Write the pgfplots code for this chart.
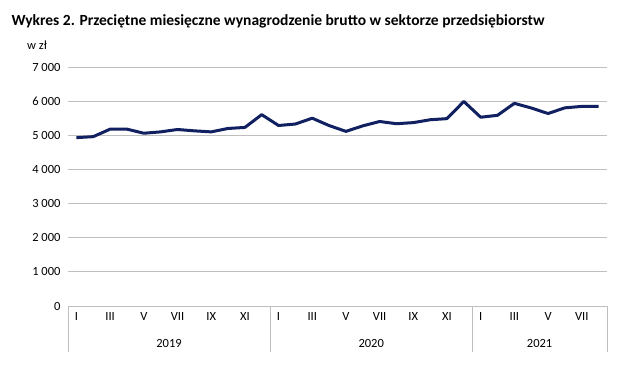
\documentclass[border=0pt]{standalone}
\usepackage{pgfplots}
\pgfplotsset{compat=1.18}
\usepackage{fontspec}
\setmainfont{Carlito}
\definecolor{navy}{RGB}{16,32,96}
\definecolor{gridgray}{RGB}{191,191,191}
\begin{document}
\begin{tikzpicture}[x=1pt,y=1pt]
\begin{axis}[
  scale only axis, width=539pt, height=239pt,
  anchor=south west, at={(0pt,0pt)},
  xmin=-0.5, xmax=31.5, ymin=0, ymax=7000,
  axis line style={draw=none},
  xtick pos=bottom, ytick pos=left,
  ymajorgrids, grid style={gridgray, line width=0.8pt},
  ytick={0,1000,...,7000},
  yticklabel style={font=\fontsize{12.5}{14}\selectfont, xshift=-4pt},
  /pgf/number format/assume math mode=true,
  /pgf/number format/1000 sep={\ },
  major tick length=0pt,
  xtick={0,2,...,30},
  xticklabels={I,III,V,VII,IX,XI,I,III,V,VII,IX,XI,I,III,V,VII},
  xticklabel style={font=\fontsize{12.5}{14}\selectfont, yshift=-3pt},
  extra x ticks={-0.5,11.5,23.5,31.5},
  extra x tick labels={},
  extra x tick style={major tick length=46pt, tick align=outside, grid=none,
     tick style={gridgray, line width=0.8pt}},
  clip=false,
]
\addplot[navy, line width=3pt, line join=round] coordinates {
(0,4931) (1,4960) (2,5180) (3,5180) (4,5060) (5,5100) (6,5170) (7,5130) (8,5100) (9,5200) (10,5230) (11,5604)
(12,5287) (13,5330) (14,5501) (15,5285) (16,5115) (17,5276) (18,5404) (19,5339) (20,5371) (21,5455) (22,5488) (23,5991)
(24,5529) (25,5585) (26,5936) (27,5800) (28,5638) (29,5804) (30,5846) (31,5849)
};
\node[font=\fontsize{12.5}{14}\selectfont] at (axis cs:5.5,0) [yshift=-37pt] {2019};
\node[font=\fontsize{12.5}{14}\selectfont] at (axis cs:17.5,0) [yshift=-37pt] {2020};
\node[font=\fontsize{12.5}{14}\selectfont] at (axis cs:27.5,0) [yshift=-37pt] {2021};
\end{axis}
\node[anchor=base west, font=\fontsize{15.5}{17}\selectfont\bfseries] at (-60pt,280pt) {Wykres 2. Przeciętne miesięczne wynagrodzenie brutto w sektorze przedsiębiorstw};
\node[font=\fontsize{12.5}{14}\selectfont] at (-31pt,261pt) {w zł};
\path[use as bounding box] (-68pt,-77pt) rectangle (571pt,306pt);
\end{tikzpicture}
\end{document}
